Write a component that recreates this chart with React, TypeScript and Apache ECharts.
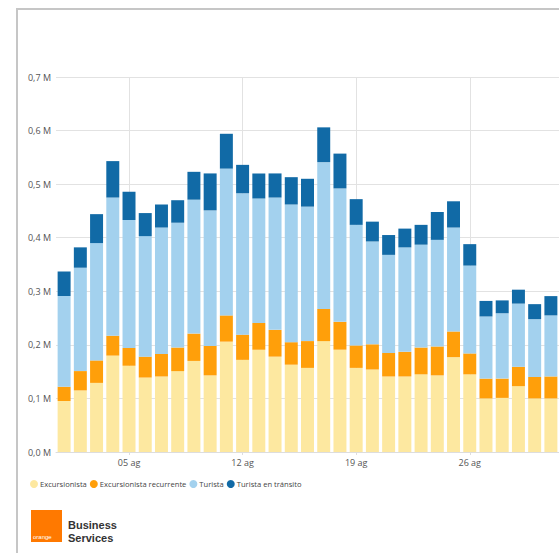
import React, { useEffect, useRef } from "react";
import * as echarts from "echarts";

const days: string[] = Array.from({ length: 31 }, (_, i) => String(i + 1).padStart(2, "0") + " ag");
const weekLabels = ["05 ag", "12 ag", "19 ag", "26 ag"];

const excursionista = [95, 115, 129, 180, 161, 139, 141, 151, 170, 143, 206, 172, 191, 178, 163, 157, 207, 191, 157, 154, 141, 141, 145, 143, 177, 145, 100, 101, 123, 100, 100];
const excursionistaRecurrente = [27, 36, 42, 37, 33, 39, 42, 44, 51, 55, 49, 47, 50, 50, 42, 50, 60, 52, 42, 47, 44, 46, 50, 54, 48, 39, 37, 36, 36, 40, 41];
const turista = [169, 193, 219, 258, 239, 225, 236, 233, 250, 253, 274, 264, 232, 247, 257, 251, 274, 249, 225, 192, 183, 195, 192, 199, 194, 164, 116, 122, 118, 108, 114];
const turistaTransito = [46, 38, 54, 68, 53, 43, 43, 42, 52, 69, 65, 53, 47, 45, 51, 52, 65, 65, 48, 37, 37, 35, 37, 52, 49, 40, 29, 24, 26, 28, 36];

const seriesNames = ["Excursionista", "Excursionista recurrente", "Turista", "Turista en tránsito"];
const seriesColors = ["#FDE8A0", "#FF9F0A", "#A3D1EE", "#116AA6"];
const seriesData = [excursionista, excursionistaRecurrente, turista, turistaTransito];

const FONT = "'Open Sans', 'Noto Sans', sans-serif";

export default function App() {
  const ref = useRef<HTMLDivElement>(null);
  useEffect(() => {
    if (!ref.current) return;
    const chart = echarts.init(ref.current, null, { renderer: "svg" });
    const weekIdx = weekLabels.map((l) => days.indexOf(l));
    chart.setOption({
      animation: false,
      backgroundColor: "#ffffff",
      textStyle: { fontFamily: FONT },
      grid: { left: 56, top: 77, width: 504, height: 375, containLabel: false },
      legend: {
        left: 30,
        top: 480,
        padding: 0,
        icon: "circle",
        itemWidth: 8,
        itemHeight: 8,
        itemGap: 3,
        textStyle: { fontSize: 7.6, color: "#444", fontFamily: FONT, padding: [0, 0, 0, -3] },
        data: seriesNames,
      },
      xAxis: {
        type: "category",
        data: days,
        axisLine: { lineStyle: { color: "#dddddd" } },
        axisTick: {
          show: true,
          alignWithLabel: true,
          length: 3,
          interval: (i: number) => weekIdx.includes(i),
          lineStyle: { color: "#dddddd" },
        },
        axisLabel: {
          interval: (i: number) => weekIdx.includes(i),
          fontSize: 9,
          color: "#555",
          margin: 6,
          fontFamily: FONT,
        },
        splitLine: { show: false },
      },
      yAxis: {
        type: "value",
        min: 0,
        max: 700,
        interval: 100,
        axisLine: { show: false },
        axisTick: { show: false },
        axisLabel: {
          fontSize: 9,
          color: "#555",
          margin: 5,
          fontFamily: FONT,
          formatter: (v: number) => (v / 1000).toFixed(1).replace(".", ",") + " M",
        },
        splitLine: { lineStyle: { color: "#e2e2e2", width: 1 } },
      },
      series: seriesNames.map((name, i) => ({
        name,
        type: "bar",
        stack: "total",
        barCategoryGap: "20%",
        data: seriesData[i],
        itemStyle: { color: seriesColors[i] },
        emphasis: { disabled: true },
        ...(i === 0
          ? {
              markLine: {
                z: 1,
                silent: true,
                symbol: "none",
                label: { show: false },
                lineStyle: { color: "#e2e2e2", width: 1, type: "solid" },
                data: weekLabels.map((l) => ({ xAxis: l })),
              },
            }
          : {}),
      })),
      graphic: [
        {
          type: "rect",
          shape: { x: 17, y: 9, width: 700, height: 700 },
          style: { fill: "none", stroke: "#c6c6c6", lineWidth: 2 },
          silent: true,
        },
        {
          type: "rect",
          shape: { x: 31, y: 510, width: 31, height: 32 },
          style: { fill: "#FF7900" },
        },
        {
          type: "text",
          x: 33,
          y: 534,
          style: { text: "orange", fill: "#ffffff", fontSize: 6, fontFamily: "'Liberation Sans', Arial, sans-serif" },
        },
        {
          type: "text",
          x: 68,
          y: 519,
          style: { text: "Business", fill: "#333333", fontSize: 11, fontWeight: "bold", fontFamily: "'Liberation Sans', Arial, sans-serif" },
        },
        {
          type: "text",
          x: 68,
          y: 532,
          style: { text: "Services", fill: "#333333", fontSize: 11, fontWeight: "bold", fontFamily: "'Liberation Sans', Arial, sans-serif" },
        },
      ],
    });
    return () => chart.dispose();
  }, []);
  return <div ref={ref} style={{ position: "fixed", left: 0, top: 0, width: 559, height: 553 }} />;
}
